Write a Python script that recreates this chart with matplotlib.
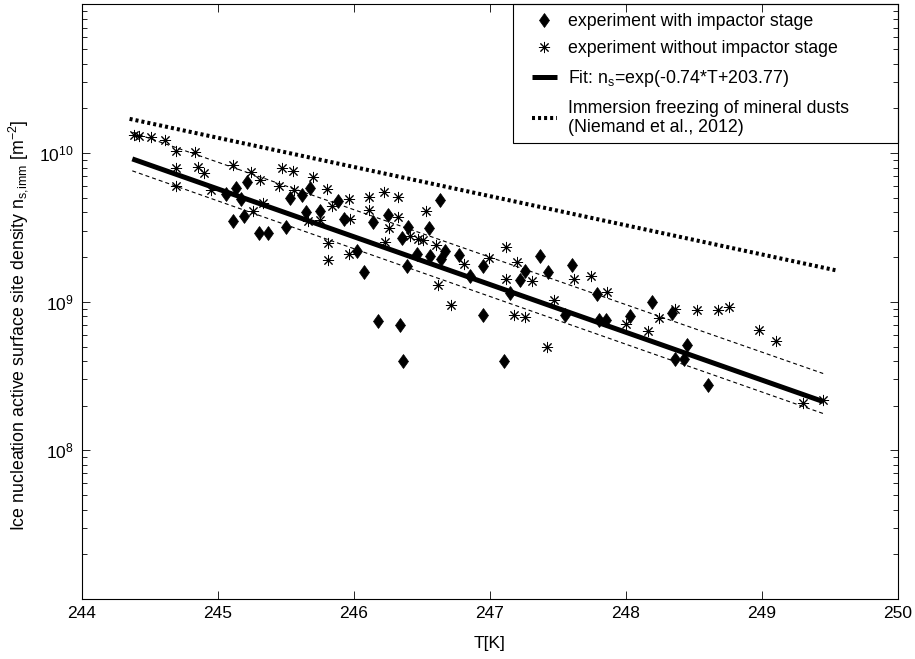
import numpy as np
import matplotlib
matplotlib.use('Agg')
import matplotlib.pyplot as plt
from matplotlib.markers import MarkerStyle
from matplotlib.transforms import Affine2D
from matplotlib.patches import Rectangle
from matplotlib.ticker import LogLocator, LogFormatterMathtext, NullFormatter, FixedLocator

plt.rcParams['font.family'] = ['Liberation Sans', 'DejaVu Sans']
plt.rcParams['mathtext.fontset'] = 'custom'
plt.rcParams['mathtext.rm'] = 'Liberation Sans'
plt.rcParams['mathtext.it'] = 'Liberation Sans:italic'
plt.rcParams['mathtext.default'] = 'regular'

# measurements with impactor stage: temperature [K], n_s [m^-2]
T_IMPACTOR = [245.06, 245.13, 245.17, 245.21, 245.11, 245.19, 245.30, 245.37, 245.50, 245.53,
              245.62, 245.68, 245.65, 245.75, 245.88, 245.93, 246.14, 246.25, 246.02, 246.07,
              246.40, 246.35, 246.55, 246.63, 246.46, 246.56, 246.39, 246.67, 246.64, 246.77,
              246.85, 246.95, 246.18, 246.34, 246.95, 246.36, 247.10, 247.15, 247.22, 247.26,
              247.37, 247.43, 247.60, 247.55, 247.79, 247.80, 247.85, 248.03, 248.19, 248.34,
              248.36, 248.45, 248.43, 248.60]
NS_IMPACTOR = [5.30e9, 5.85e9, 4.88e9, 6.39e9, 3.47e9, 3.75e9, 2.90e9, 2.90e9, 3.19e9, 5.02e9,
               5.25e9, 5.82e9, 4.02e9, 4.05e9, 4.78e9, 3.62e9, 3.42e9, 3.85e9, 2.18e9, 1.58e9,
               3.18e9, 2.68e9, 3.13e9, 4.86e9, 2.10e9, 2.04e9, 1.75e9, 2.18e9, 1.94e9, 2.07e9,
               1.48e9, 1.73e9, 7.38e8, 6.94e8, 8.19e8, 4.02e8, 3.98e8, 1.15e9, 1.41e9, 1.62e9,
               2.02e9, 1.58e9, 1.78e9, 8.19e8, 1.12e9, 7.58e8, 7.58e8, 7.98e8, 9.91e8, 8.45e8,
               4.13e8, 5.15e8, 4.13e8, 2.77e8]

# measurements without impactor stage
T_NO_IMPACTOR = [244.38, 244.42, 244.51, 244.61, 244.69, 244.69, 244.69, 244.83, 244.85, 244.90,
                 244.95, 245.11, 245.24, 245.31, 245.33, 245.26, 245.45, 245.47, 245.55, 245.56,
                 245.70, 245.80, 245.84, 245.66, 245.75, 245.81, 245.81, 245.96, 246.11, 246.11,
                 246.22, 246.32, 246.32, 245.97, 246.26, 246.23, 245.96, 246.41, 246.47, 246.51,
                 246.53, 246.60, 246.81, 246.99, 246.62, 246.71, 247.12, 247.20, 247.12, 247.31,
                 247.47, 247.62, 247.74, 247.86, 247.18, 247.26, 247.42, 248.00, 248.16, 248.24,
                 248.36, 248.52, 248.68, 248.76, 248.98, 249.10, 249.30, 249.45]
NS_NO_IMPACTOR = [1.33e10, 1.31e10, 1.28e10, 1.22e10, 1.04e10, 7.93e9, 6.03e9, 1.01e10, 8.12e9, 7.34e9,
                  5.64e9, 8.28e9, 7.43e9, 6.62e9, 4.61e9, 4.05e9, 6.00e9, 7.93e9, 7.58e9, 5.61e9,
                  6.90e9, 5.73e9, 4.42e9, 3.47e9, 3.55e9, 2.48e9, 1.92e9, 4.91e9, 5.06e9, 4.16e9,
                  5.44e9, 5.06e9, 3.72e9, 3.62e9, 3.13e9, 2.51e9, 2.11e9, 2.78e9, 2.64e9, 2.61e9,
                  4.05e9, 2.42e9, 1.80e9, 1.98e9, 1.29e9, 9.46e8, 2.32e9, 1.84e9, 1.43e9, 1.37e9,
                  1.03e9, 1.42e9, 1.50e9, 1.17e9, 8.10e8, 7.90e8, 4.97e8, 7.13e8, 6.33e8, 7.78e8,
                  8.94e8, 8.75e8, 8.75e8, 9.23e8, 6.42e8, 5.42e8, 2.07e8, 2.17e8]

# exponential fit ln(n_s) = a*T + b
FIT_A = -0.74
FIT_B = 203.77
FIT_T = [244.37, 249.45]

# dashed bounds around the fit
BAND_T = [244.37, 249.45]
BAND_UPPER = [1.38e10, 3.29e8]
BAND_LOWER = [7.60e9, 1.77e8]

# Niemand et al. (2012) mineral dust immersion freezing
NIEMAND_T = [244.35, 249.54]
NIEMAND_NS = [1.70e10, 1.63e9]

FS = 12.5

fig = plt.figure(figsize=(9.15, 6.59), dpi=100)
fig.subplots_adjust(left=0.0896, right=0.9814, top=0.9932, bottom=0.0910)
ax = fig.add_subplot(111)

diamond = MarkerStyle('D', transform=Affine2D().scale(0.7, 1.0))
ax.plot(T_IMPACTOR, NS_IMPACTOR, linestyle='none', marker=diamond, ms=6.8,
        mfc='black', mec='black', mew=0.5, label='experiment with impactor stage')
ax.plot(T_NO_IMPACTOR, NS_NO_IMPACTOR, linestyle='none', marker=(8, 2, 0), ms=8.0,
        mec='black', mew=0.7, label='experiment without impactor stage')

t_fit = np.linspace(FIT_T[0], FIT_T[1], 50)
ax.plot(t_fit, np.exp(FIT_A * t_fit + FIT_B), color='black', lw=3.6, solid_capstyle='butt',
        label=f'Fit: n$_s$=exp({FIT_A}*T+{FIT_B})')
ax.plot(BAND_T, BAND_UPPER, color='black', lw=0.8, linestyle=(0, (3.6, 2.7)))
ax.plot(BAND_T, BAND_LOWER, color='black', lw=0.8, linestyle=(0, (3.6, 2.7)))
ax.plot(NIEMAND_T, NIEMAND_NS, color='black', lw=2.9, linestyle=(0, (0.75, 0.75)),
        dash_capstyle='butt',
        label='Immersion freezing of mineral dusts\n(Niemand et al., 2012)')

ax.set_yscale('log')
ax.set_xlim(244, 250)
ax.set_ylim(1e7, 1e11)
ax.xaxis.set_major_locator(FixedLocator(np.arange(244, 251)))
ax.set_xticklabels([str(v) for v in range(244, 251)])
ax.yaxis.set_major_locator(FixedLocator([1e8, 1e9, 1e10]))
ax.yaxis.set_major_formatter(LogFormatterMathtext())
ax.yaxis.set_minor_locator(LogLocator(base=10, subs=np.arange(2, 10)))
ax.yaxis.set_minor_formatter(NullFormatter())

ax.tick_params(which='both', direction='in', top=True, right=True, width=0.6)
ax.tick_params(which='major', length=5.8, labelsize=FS)
ax.tick_params(which='minor', length=3.6)
ax.tick_params(axis='x', pad=5)
ax.tick_params(axis='y', pad=6)
for sp in ax.spines.values():
    sp.set_linewidth(0.8)

ax.set_xlabel('T[K]', fontsize=FS)
ax.set_ylabel('Ice nucleation active surface site density n$_{s{,}imm}$ [m$^{-2}$]', fontsize=12.8)
ax.xaxis.set_label_coords(0.5, -0.0615)
ax.yaxis.set_label_coords(-0.064, 0.461)

leg = ax.legend(loc='upper left', bbox_to_anchor=(0.5515, 0.986), frameon=False,
                fontsize=12.8, borderpad=0, handlelength=1.4, handletextpad=0.62,
                labelspacing=0.6, numpoints=1, borderaxespad=0)
ax.add_patch(Rectangle((0.5282, 0.767), 1 - 0.5282, 1 - 0.767, transform=ax.transAxes,
                       fill=False, edgecolor='black', lw=0.8, clip_on=False, zorder=5))

fig.savefig('out.png', dpi=100)
